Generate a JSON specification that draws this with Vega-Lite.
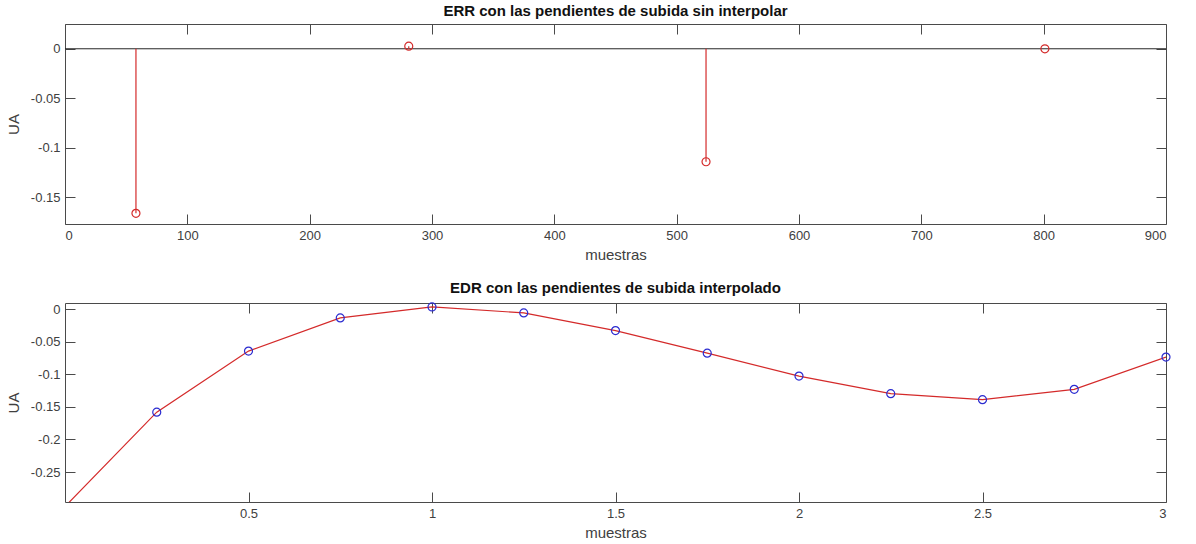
{
  "$schema": "https://vega.github.io/schema/vega-lite/v6.json",
  "background": "white",
  "padding": {"left": 5, "top": 3, "right": 4, "bottom": 1},
  "spacing": 17,
  "config": {
    "font": "Liberation Sans",
    "view": {"stroke": "#4a4a4a", "strokeWidth": 1},
    "axis": {
      "labelFont": "Liberation Sans",
      "labelFontSize": 13,
      "labelColor": "#404040",
      "titleFont": "Liberation Sans",
      "titleFontSize": 15,
      "titleFontWeight": "normal",
      "titleColor": "#404040",
      "gridColor": "#e2e2e2",
      "gridWidth": 1,
      "domain": false,
      "tickColor": "#4a4a4a",
      "tickSize": -10,
      "tickWidth": 1,
      "labelPadding": 15
    },
    "title": {
      "font": "Liberation Sans",
      "fontSize": 15,
      "fontWeight": "bold",
      "color": "#111111",
      "offset": 5
    }
  },
  "datasets": {
    "err": [
      {"muestra": 58, "ua": -0.166},
      {"muestra": 281, "ua": 0.0026},
      {"muestra": 524, "ua": -0.114},
      {"muestra": 801, "ua": 0.0}
    ],
    "base": [
      {"ua": 0}
    ],
    "edr_linea": [
      {"x": 0.0, "ua": -0.303},
      {"x": 0.25, "ua": -0.158},
      {"x": 0.5, "ua": -0.0643},
      {"x": 0.75, "ua": -0.0133},
      {"x": 1.0, "ua": 0.0035},
      {"x": 1.25, "ua": -0.0056},
      {"x": 1.5, "ua": -0.0327},
      {"x": 1.75, "ua": -0.0674},
      {"x": 2.0, "ua": -0.1026},
      {"x": 2.25, "ua": -0.1296},
      {"x": 2.5, "ua": -0.1388},
      {"x": 2.75, "ua": -0.123},
      {"x": 3.0, "ua": -0.0735}
    ],
    "edr_puntos": [
      {"x": 0.25, "ua": -0.158},
      {"x": 0.5, "ua": -0.0643},
      {"x": 0.75, "ua": -0.0133},
      {"x": 1.0, "ua": 0.0035},
      {"x": 1.25, "ua": -0.0056},
      {"x": 1.5, "ua": -0.0327},
      {"x": 1.75, "ua": -0.0674},
      {"x": 2.0, "ua": -0.1026},
      {"x": 2.25, "ua": -0.1296},
      {"x": 2.5, "ua": -0.1388},
      {"x": 2.75, "ua": -0.123},
      {"x": 3.0, "ua": -0.0735}
    ]
  },
  "vconcat": [
    {
      "width": 1101,
      "height": 200,
      "title": {"text": "ERR con las pendientes de subida sin interpolar"},
      "resolve": {"axis": {"x": "independent", "y": "independent"}},
      "layer": [
        {
          "data": {"name": "base"},
          "mark": {"type": "rule", "color": "#262626", "strokeWidth": 1},
          "encoding": {
            "y": {"field": "ua", "type": "quantitative", "axis": null,
                  "scale": {"domain": [-0.1768, 0.025], "nice": false, "zero": false}}
          }
        },
        {
          "data": {"name": "err"},
          "mark": {"type": "rule", "color": "#d42a2a", "strokeWidth": 1.2},
          "encoding": {
            "x": {"field": "muestra", "type": "quantitative", "axis": null,
                  "scale": {"domain": [0, 900], "nice": false, "zero": false}},
            "y": {"field": "ua", "type": "quantitative", "axis": null},
            "y2": {"datum": 0}
          }
        },
        {
          "data": {"name": "err"},
          "mark": {"type": "point", "shape": "circle", "filled": false, "color": "#d42a2a", "size": 64, "strokeWidth": 1.2, "opacity": 1},
          "encoding": {
            "x": {"field": "muestra", "type": "quantitative", "title": "muestras",
                  "axis": {"orient": "bottom", "values": [0, 100, 200, 300, 400, 500, 600, 700, 800, 900], "titlePadding": 5}},
            "y": {"field": "ua", "type": "quantitative", "title": "UA",
                  "axis": {"orient": "left", "values": [0, -0.05, -0.1, -0.15], "labelExpr": "'' + datum.value", "titlePadding": 9}}
          }
        },
        {
          "data": {"name": "err"},
          "mark": {"type": "point", "opacity": 0},
          "encoding": {
            "x": {"field": "muestra", "type": "quantitative",
                  "axis": {"orient": "top", "labels": false, "grid": false, "title": null, "values": [0, 100, 200, 300, 400, 500, 600, 700, 800, 900]}},
            "y": {"field": "ua", "type": "quantitative",
                  "axis": {"orient": "right", "labels": false, "grid": false, "title": null, "values": [0, -0.05, -0.1, -0.15]}}
          }
        }
      ]
    },
    {
      "width": 1101,
      "height": 199,
      "title": {"text": "EDR con las pendientes de subida interpolado"},
      "resolve": {"axis": {"x": "independent", "y": "independent"}},
      "layer": [
        {
          "data": {"name": "edr_linea"},
          "mark": {"type": "line", "color": "#d42a2a", "strokeWidth": 1.2, "clip": true},
          "encoding": {
            "x": {"field": "x", "type": "quantitative", "axis": null,
                  "scale": {"domain": [0, 3], "nice": false, "zero": false}},
            "y": {"field": "ua", "type": "quantitative", "axis": null,
                  "scale": {"domain": [-0.296, 0.0096], "nice": false, "zero": false}}
          }
        },
        {
          "data": {"name": "edr_puntos"},
          "mark": {"type": "point", "shape": "circle", "filled": false, "color": "#2b2bd0", "size": 64, "strokeWidth": 1.2, "opacity": 1},
          "encoding": {
            "x": {"field": "x", "type": "quantitative", "title": "muestras",
                  "axis": {"orient": "bottom", "values": [0.5, 1, 1.5, 2, 2.5, 3], "labelExpr": "'' + datum.value", "titlePadding": 5}},
            "y": {"field": "ua", "type": "quantitative", "title": "UA",
                  "axis": {"orient": "left", "values": [0, -0.05, -0.1, -0.15, -0.2, -0.25], "labelExpr": "'' + datum.value", "titlePadding": 9}}
          }
        },
        {
          "data": {"name": "edr_puntos"},
          "mark": {"type": "point", "opacity": 0},
          "encoding": {
            "x": {"field": "x", "type": "quantitative",
                  "axis": {"orient": "top", "labels": false, "grid": false, "title": null, "values": [0.5, 1, 1.5, 2, 2.5, 3]}},
            "y": {"field": "ua", "type": "quantitative",
                  "axis": {"orient": "right", "labels": false, "grid": false, "title": null, "values": [0, -0.05, -0.1, -0.15, -0.2, -0.25]}}
          }
        }
      ]
    }
  ]
}
